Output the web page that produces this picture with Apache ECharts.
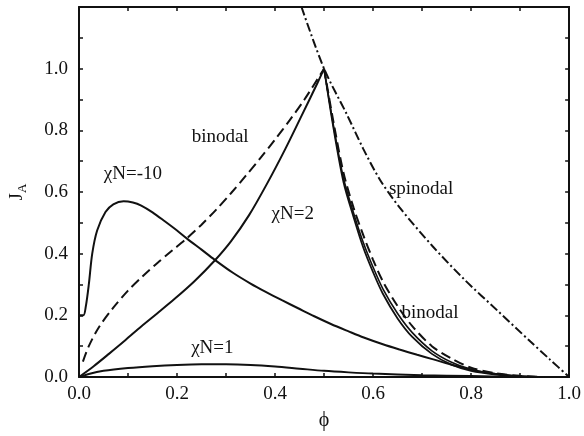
<!DOCTYPE html>
<html>
<head>
<meta charset="utf-8">
<script src="https://cdn.jsdelivr.net/npm/echarts@6/dist/echarts.min.js"></script>
<style>
  html, body { margin: 0; padding: 0; background: #fff; }
  #chart { width: 584px; height: 436px; }
</style>
</head>
<body>
<div id="chart"></div>
<script>
// Tick labels
var xTicks = ['0.0', '0.2', '0.4', '0.6', '0.8', '1.0'];
var yTicks = ['0.0', '0.2', '0.4', '0.6', '0.8', '1.0'];

// chi N = -10
var phiM10 = [0, 0.009, 0.014, 0.02, 0.027, 0.037, 0.054, 0.07, 0.091, 0.11, 0.127, 0.15, 0.175, 0.2, 0.221, 0.25, 0.277, 0.314, 0.35, 0.381, 0.414, 0.447, 0.48, 0.514, 0.55, 0.581, 0.62, 0.654, 0.69, 0.721, 0.76, 0.8, 0.827, 0.87, 0.9, 0.95];
var jM10   = [0.2, 0.2, 0.23, 0.3, 0.4, 0.475, 0.535, 0.56, 0.57, 0.566, 0.556, 0.534, 0.505, 0.475, 0.448, 0.413, 0.38, 0.338, 0.303, 0.276, 0.249, 0.223, 0.197, 0.172, 0.148, 0.128, 0.106, 0.089, 0.072, 0.058, 0.04, 0.024, 0.015, 0.006, 0.002, 0];

// chi N = 1
var phiC1 = [0, 0.02, 0.05, 0.1, 0.15, 0.2, 0.25, 0.3, 0.35, 0.4, 0.45, 0.5, 0.55, 0.6, 0.7, 0.8, 0.9];
var jC1   = [0, 0.01, 0.02, 0.029, 0.035, 0.039, 0.041, 0.041, 0.039, 0.034, 0.027, 0.02, 0.015, 0.011, 0.006, 0.003, 0];

// chi N = 2, rising branch and the pair of falling branches
var phiC2L = [0, 0.03, 0.061, 0.095, 0.127, 0.16, 0.194, 0.235, 0.277, 0.31, 0.347, 0.384, 0.421, 0.454, 0.487, 0.5];
var jC2L   = [0, 0.035, 0.075, 0.12, 0.164, 0.207, 0.252, 0.31, 0.378, 0.44, 0.525, 0.628, 0.74, 0.847, 0.955, 1.0];
var phiC2R = [0.5, 0.52, 0.54, 0.56, 0.58, 0.6, 0.62, 0.65, 0.68, 0.72, 0.76, 0.8, 0.85, 0.9, 0.95];
var jC2R   = [1.0, 0.8, 0.63, 0.52, 0.42, 0.34, 0.27, 0.19, 0.13, 0.075, 0.04, 0.02, 0.008, 0.002, 0];
var jC2R2  = [1.0, 0.808, 0.642, 0.533, 0.436, 0.356, 0.286, 0.206, 0.144, 0.085, 0.048, 0.025, 0.01, 0.003, 0];

// binodal, left and right branches
var phiBinL = [0.008, 0.02, 0.04, 0.07, 0.1, 0.13, 0.16, 0.19, 0.22, 0.25, 0.28, 0.31, 0.34, 0.37, 0.4, 0.43, 0.46, 0.5];
var jBinL   = [0.05, 0.1, 0.16, 0.225, 0.28, 0.327, 0.37, 0.41, 0.45, 0.494, 0.543, 0.596, 0.652, 0.71, 0.77, 0.833, 0.9, 1.0];
var phiBinR = [0.5, 0.52, 0.54, 0.56, 0.58, 0.6, 0.62, 0.65, 0.68, 0.72, 0.76, 0.8, 0.85, 0.9, 0.95];
var jBinR   = [1.0, 0.82, 0.66, 0.55, 0.46, 0.38, 0.31, 0.23, 0.165, 0.1, 0.06, 0.03, 0.012, 0.004, 0];

// spinodal
var phiSpin = [0.454, 0.5, 0.547, 0.58, 0.614, 0.654, 0.721, 0.787, 0.854, 0.921, 0.96, 1.0];
var jSpin   = [1.2, 1.0, 0.85, 0.74, 0.64, 0.55, 0.425, 0.315, 0.215, 0.115, 0.058, 0];

// In-plot annotations (data coordinates)
var notes = [
  { text: 'χN=-10', x: 0.11,  y: 0.657 },
  { text: 'binodal', x: 0.288, y: 0.779 },
  { text: 'χN=2',   x: 0.436, y: 0.529 },
  { text: 'χN=1',   x: 0.272, y: 0.093 },
  { text: 'spinodal', x: 0.698, y: 0.609 },
  { text: 'binodal', x: 0.716, y: 0.208 }
];

function pairs(xs, ys) {
  return xs.map(function (x, i) { return [x, ys[i]]; });
}

var FONT = '"Liberation Serif", "Times New Roman", serif';
var INK = '#111';

function curve(xs, ys, type, w) {
  var ls = { color: INK, width: w || 2, type: 'solid' };
  if (type === 'dash') { ls.type = [10, 5]; }
  if (type === 'dashdot') { ls.type = [9, 3, 2, 3]; }
  return {
    type: 'line', data: pairs(xs, ys), showSymbol: false, smooth: 0.3,
    lineStyle: ls, silent: true, animation: false, clip: true
  };
}

var tickCommon = { show: true, inside: true, length: 4, lineStyle: { color: INK, width: 1.5 } };
var minorCommon = { show: true, splitNumber: 2, length: 4, lineStyle: { color: INK, width: 1.5 } };
var lineCommon = { show: true, onZero: false, lineStyle: { color: INK, width: 2 } };

var chart = echarts.init(document.getElementById('chart'), null, { renderer: 'canvas' });
chart.setOption({
  backgroundColor: '#fff',
  animation: false,
  grid: { left: 73, right: 11, top: 7, bottom: 53 },
  xAxis: [{
    type: 'value', min: 0, max: 1, interval: 0.2, position: 'bottom',
    axisLine: lineCommon, axisTick: tickCommon, minorTick: minorCommon,
    splitLine: { show: false },
    axisLabel: {
      margin: 8, color: INK, fontFamily: FONT, fontSize: 19,
      formatter: function (v) { return xTicks[Math.round(v / 0.2)]; }
    },
    name: 'ϕ', nameLocation: 'middle', nameGap: 34,
    nameTextStyle: { color: INK, fontFamily: FONT, fontSize: 20 }
  }, {
    type: 'value', min: 0, max: 1, interval: 0.2, position: 'top',
    axisLine: lineCommon, axisTick: tickCommon, minorTick: minorCommon,
    splitLine: { show: false }, axisLabel: { show: false }
  }],
  yAxis: [{
    type: 'value', min: 0, max: 1.2, interval: 0.2, position: 'left',
    axisLine: lineCommon, axisTick: tickCommon, minorTick: minorCommon,
    splitLine: { show: false },
    axisLabel: {
      margin: 11, color: INK, fontFamily: FONT, fontSize: 19,
      formatter: function (v) { var i = Math.round(v / 0.2); return i < yTicks.length ? yTicks[i] : ''; }
    },
    name: '{j|J}{a|A}', nameLocation: 'middle', nameGap: 50,
    nameTextStyle: {
      color: INK, fontFamily: FONT,
      rich: {
        j: { fontFamily: FONT, fontSize: 19, color: INK },
        a: { fontFamily: FONT, fontSize: 13, color: INK, padding: [10, 0, 0, 0] }
      }
    }
  }, {
    type: 'value', min: 0, max: 1.2, interval: 0.2, position: 'right',
    axisLine: lineCommon, axisTick: tickCommon, minorTick: minorCommon,
    splitLine: { show: false }, axisLabel: { show: false }
  }],
  series: [
    curve(phiM10, jM10, 'solid'),
    curve(phiC1, jC1, 'solid'),
    curve(phiC2L, jC2L, 'solid'),
    curve(phiC2R, jC2R, 'solid', 1.8),
    curve(phiC2R, jC2R2, 'solid', 1.6),
    curve(phiBinL, jBinL, 'dash'),
    curve(phiBinR, jBinR, 'dash'),
    curve(phiSpin, jSpin, 'dashdot')
  ]
});

// Place the curve annotations using the axes' own scales
chart.setOption({
  graphic: notes.map(function (n) {
    var p = chart.convertToPixel({ xAxisIndex: 0, yAxisIndex: 0 }, [n.x, n.y]);
    return {
      type: 'text', x: p[0], y: p[1], silent: true,
      style: { text: n.text, fill: INK, font: '19px ' + FONT, align: 'center', verticalAlign: 'middle' }
    };
  })
});
</script>
</body>
</html>
